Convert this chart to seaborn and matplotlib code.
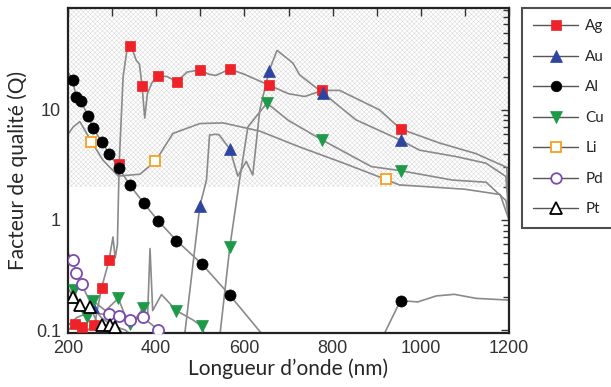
import matplotlib
matplotlib.use("Agg")
import matplotlib.pyplot as plt
from matplotlib.lines import Line2D
from matplotlib.ticker import FixedLocator, LogLocator, NullFormatter, FixedFormatter
import seaborn as sns

# gray curves (wavelength nm, quality factor Q)
ag_wl = [200, 216, 231, 245, 260, 276, 293, 302, 307, 312, 316, 325, 335, 345, 355, 362, 368, 374, 380, 390, 404,
         425, 447, 470, 499, 520, 535, 567, 600, 656, 700, 737, 777, 816, 906, 954, 1042, 1125, 1195, 1200]
ag_q = [0.1, 0.113, 0.107, 0.1, 0.111, 0.24, 0.43, 0.7, 0.45, 0.6, 3.2, 20, 38, 36, 28, 26, 16.5, 8.4, 14, 17.5, 20.4,
        20, 18, 22, 23, 21, 20.5, 23.4, 21, 16.7, 14, 13.2, 15, 15, 10, 6.7, 5, 4.0, 3.0, 1.0]

au_wl = [200, 220, 240, 257, 275, 300, 330, 360, 460, 465, 499, 514, 521, 537, 543, 567, 585, 604, 619, 635, 656,
         674, 710, 725, 778, 853, 954, 997, 1080, 1148, 1193, 1200]
au_q = [0.11, 0.13, 0.14, 0.163, 0.13, 0.11, 0.1, 0.08, 0.08, 0.094, 1.34, 2.3, 5.9, 6.0, 5.9, 4.4, 2.5, 3.4, 2.56, 10,
        22.6, 34.6, 26.6, 20.8, 14.2, 8.1, 5.3, 4.3, 3.76, 3.27, 2.48, 1.0]

al_wl = [200, 211, 218, 229, 246, 257, 276, 294, 316, 340, 372, 404, 446, 503, 567, 638, 700, 910, 918, 954, 993,
         1035, 1076, 1125, 1200]
al_q = [22, 18.5, 13.2, 11.9, 8.8, 6.8, 5.15, 3.98, 2.95, 2.07, 1.42, 0.985, 0.65, 0.40, 0.207, 0.094, 0.07, 0.07,
        0.094, 0.185, 0.18, 0.204, 0.211, 0.194, 0.187]

cu_wl = [200, 214, 228, 242, 257, 285, 314, 328, 340, 355, 370, 380, 386, 392, 412, 446, 484, 503, 520, 540, 545,
         567, 589, 608, 651, 700, 777, 888, 954, 1072, 1148, 1193, 1200]
cu_q = [0.18, 0.231, 0.16, 0.132, 0.184, 0.15, 0.194, 0.14, 0.113, 0.13, 0.157, 0.12, 0.55, 0.15, 0.21, 0.15, 0.123,
        0.108, 0.07, 0.07, 0.094, 0.57, 2.3, 7, 11.5, 8, 5.3, 3.05, 2.8, 2.3, 2.2, 1.5, 1.0]

li_wl = [200, 212, 227, 253, 279, 314, 363, 398, 438, 499, 552, 635, 725, 823, 920, 951, 1100, 1180, 1200]
li_q = [6.0, 7.0, 7.8, 5.15, 3.5, 2.5, 2.6, 3.4, 6.1, 7.5, 7.6, 6.4, 4.6, 3.3, 2.34, 2.08, 1.9, 1.7, 1.0]

pd_wl = [200, 211, 218, 231, 250, 270, 294, 316, 340, 370, 404, 420]
pd_q = [0.5, 0.43, 0.33, 0.26, 0.18, 0.14, 0.139, 0.134, 0.123, 0.13, 0.101, 0.085]

pt_wl = [200, 212, 227, 238, 250, 265, 276, 295, 306, 314, 330]
pt_q = [0.24, 0.2, 0.169, 0.147, 0.163, 0.12, 0.111, 0.111, 0.107, 0.105, 0.085]

# marker positions
ag_mk_wl = [216, 231, 260, 276, 293, 316, 340, 368, 404, 447, 499, 567, 656, 777, 954]
ag_mk_q = [0.113, 0.107, 0.111, 0.24, 0.43, 3.2, 38, 16.5, 20.4, 18, 23, 23.4, 16.7, 15, 6.7]
au_mk_wl = [257, 499, 567, 656, 778, 954]
au_mk_q = [0.163, 1.34, 4.4, 22.6, 14.2, 5.3]
al_mk_wl = [211, 218, 229, 246, 257, 276, 294, 316, 340, 372, 404, 446, 503, 567, 954]
al_mk_q = [18.5, 13.2, 11.9, 8.8, 6.8, 5.15, 3.98, 2.95, 2.07, 1.42, 0.985, 0.65, 0.40, 0.207, 0.185]
cu_mk_wl = [214, 242, 257, 314, 340, 370, 446, 503, 567, 651, 777, 954]
cu_mk_q = [0.231, 0.132, 0.184, 0.194, 0.113, 0.157, 0.15, 0.108, 0.57, 11.5, 5.3, 2.8]
li_mk_wl = [253, 398, 920]
li_mk_q = [5.15, 3.4, 2.34]
pd_mk_wl = [211, 218, 231, 294, 316, 340, 370, 404]
pd_mk_q = [0.43, 0.33, 0.26, 0.139, 0.134, 0.123, 0.13, 0.101]
pt_mk_wl = [212, 227, 250, 276, 295, 306]
pt_mk_q = [0.2, 0.169, 0.163, 0.111, 0.111, 0.107]

metals = ["Ag", "Au", "Al", "Cu", "Li", "Pd", "Pt"]
curves = {"Ag": (ag_wl, ag_q), "Au": (au_wl, au_q), "Al": (al_wl, al_q), "Cu": (cu_wl, cu_q),
          "Li": (li_wl, li_q), "Pd": (pd_wl, pd_q), "Pt": (pt_wl, pt_q)}
marks = {"Ag": (ag_mk_wl, ag_mk_q), "Au": (au_mk_wl, au_mk_q), "Al": (al_mk_wl, al_mk_q),
         "Cu": (cu_mk_wl, cu_mk_q), "Li": (li_mk_wl, li_mk_q), "Pd": (pd_mk_wl, pd_mk_q),
         "Pt": (pt_mk_wl, pt_mk_q)}
# marker, face, edge, size
styles = {"Ag": ("s", "#ee2228", "#ee2228", 7),
          "Au": ("^", "#2e45a0", "#2e45a0", 8.5),
          "Al": ("o", "black", "black", 8),
          "Cu": ("v", "#1c9a48", "#1c9a48", 9),
          "Li": ("s", "white", "#f5a31e", 7.5),
          "Pd": ("o", "white", "#7a4cb0", 8),
          "Pt": ("^", "white", "black", 8.5)}

sns.set_style("white")
plt.rcParams["hatch.linewidth"] = 0.3

fig = plt.figure(figsize=(6.11, 3.87), dpi=100)
ax = fig.add_axes([68 / 611, 1 - 333 / 387, 441 / 611, 325 / 387])

# shaded region Q > 2
ax.axhspan(2, 1000, facecolor="white", edgecolor="#d2d2d2", hatch="xxxxxxx", linewidth=0, zorder=0)

for m in metals:
    wl, q = curves[m]
    sns.lineplot(x=wl, y=q, sort=False, estimator=None, color="#8a8a8a", linewidth=1.2, ax=ax, zorder=2)
for m in metals:
    wl, q = marks[m]
    mk, fc, ec, ms = styles[m]
    ax.plot(wl, q, linestyle="none", marker=mk, markersize=ms, markerfacecolor=fc,
            markeredgecolor=ec, markeredgewidth=1.3 if fc == "white" else 0.5, zorder=3, clip_on=True)

ax.set_yscale("log")
ax.set_xlim(200, 1200)
ax.set_ylim(0.094, 84)

tick_font = dict(family="Liberation Sans", size=13)
ax.xaxis.set_major_locator(FixedLocator([200, 400, 600, 800, 1000, 1200]))
ax.xaxis.set_minor_locator(FixedLocator(list(range(300, 1200, 200))))
ax.set_xticklabels(["200", "400", "600", "800", "1000", "1200"], fontdict=tick_font, color="#333333")
ax.yaxis.set_major_locator(FixedLocator([0.1, 1, 10]))
ax.yaxis.set_major_formatter(FixedFormatter(["0.1", "1", "10"]))
ax.yaxis.set_minor_locator(LogLocator(base=10, subs=range(2, 10)))
ax.yaxis.set_minor_formatter(NullFormatter())
for lab in ax.get_yticklabels():
    lab.set_fontfamily("Liberation Sans")
    lab.set_fontsize(13)
    lab.set_color("#333333")
ax.tick_params(which="both", direction="in", top=True, right=True, color="#333333", width=1)
ax.tick_params(which="major", length=6, pad=5)
ax.tick_params(which="minor", length=4)
ax.tick_params(axis="x", which="minor", length=6)
for s in ax.spines.values():
    s.set_linewidth(1.6)
    s.set_color("#222222")

ax.set_xlabel("Longueur d\u2019onde (nm)", family="Lato", fontsize=15, labelpad=1)
ax.set_ylabel("Facteur de qualité (Q)", family="Lato", fontsize=15, labelpad=6)

handles = []
for m in metals:
    mk, fc, ec, ms = styles[m]
    handles.append(Line2D([0], [0], color="#555555", linewidth=1, marker=mk, markersize=ms * 0.95,
                          markerfacecolor=fc, markeredgecolor=ec,
                          markeredgewidth=1.3 if fc == "white" else 0.5))
leg = fig.legend(handles, metals, loc="upper left", bbox_to_anchor=(522 / 611, 1 - 8 / 387),
                 frameon=True, fancybox=False, borderaxespad=0, handlelength=2.9, handletextpad=0.5,
                 labelspacing=1.08, borderpad=0.75, prop={"family": "Lato", "size": 11})
leg.get_frame().set_edgecolor("#222222")
leg.get_frame().set_linewidth(1.5)

fig.savefig("out.png", dpi=100)
